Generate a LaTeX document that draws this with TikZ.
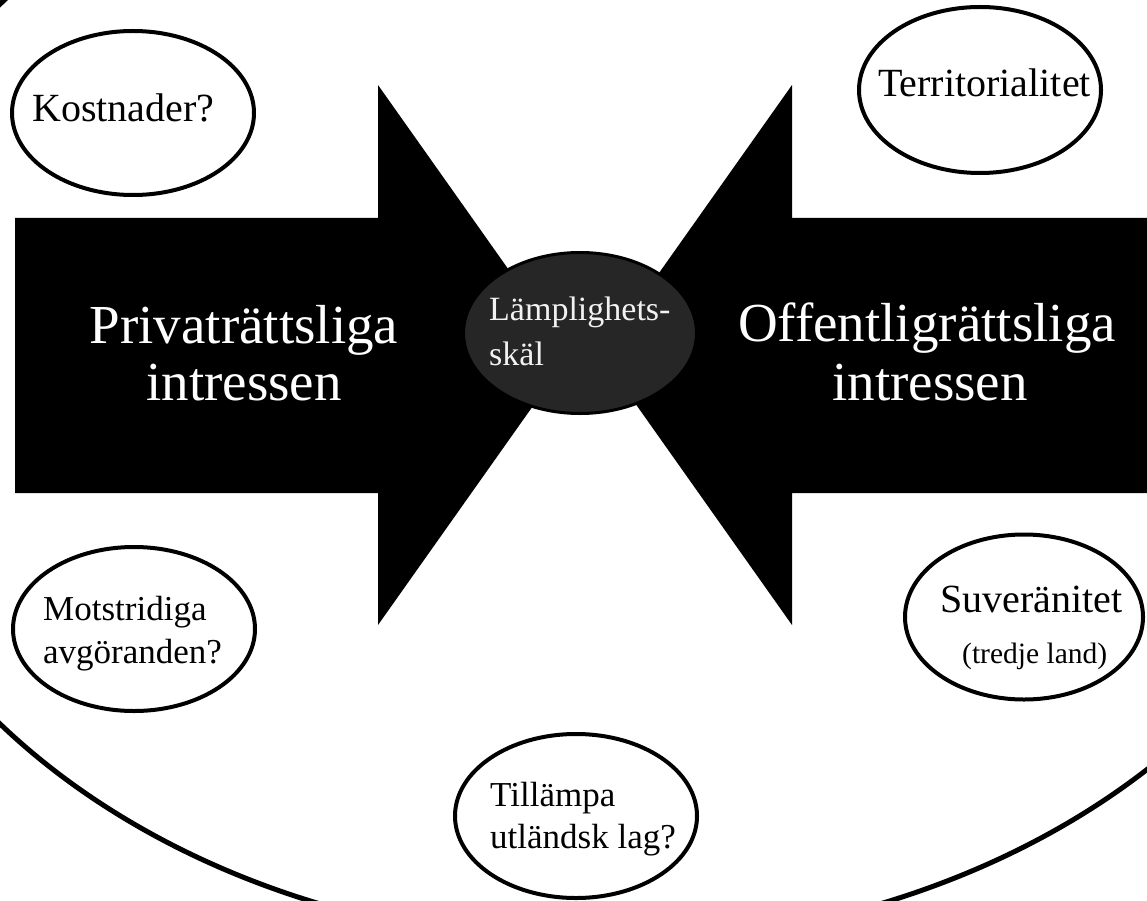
\documentclass[tikz,border=0pt]{standalone}
\usepackage{fontspec}
\setmainfont{Liberation Serif}
\usetikzlibrary{shapes.geometric}

\definecolor{hubgray}{HTML}{262626}
\definecolor{hubtext}{HTML}{F2F2F2}

% one font size, scaled up
\newcommand{\sized}[2]{\scalebox{#1}{#2}}

\begin{document}
\begin{tikzpicture}[x=1pt, y=-1pt, font=\fontsize{10}{12}\selectfont,
    bubble/.style = {ellipse, draw, line width=4pt, fill=white, inner sep=0pt,
                     minimum width=242pt, minimum height=164pt},
    word/.style = {anchor=base west, inner sep=0pt},
    big/.style = {anchor=base, inner sep=0pt, text=white}]

  \useasboundingbox (0,0) rectangle (1147,901);
  \fill[white] (0,0) rectangle (1147,901);

  % large frame arc
  \begin{scope}
    \clip (0,0) rectangle (1147,901);
    \draw[line width=5pt] (600,364) ellipse [x radius=765, y radius=580];
  \end{scope}

  % the two arrows
  \fill (15,218) -- (378,218) -- (378,85) -- (569,355) -- (378,625) -- (378,493) -- (15,493) -- cycle;
  \fill (1147,218) -- (792,218) -- (792,85) -- (601,355) -- (792,625) -- (792,493) -- (1147,493) -- cycle;

  \node[big] (priv) at (244,343) {\sized{5.5}{Privaträttsliga}};
  \node[big] (privb) at (244,400) {\sized{5.5}{intressen}};
  \node[big] (off) at (927,341) {\sized{5.5}{Offentligrättsliga}};
  \node[big] (offb) at (930,400) {\sized{5.5}{intressen}};

  % centre
  \node[ellipse, draw, line width=3pt, fill=hubgray, minimum width=233pt, minimum height=161pt] (hub) at (580,333) {};
  \node[word, text=hubtext] (huba) at (489,320) {\sized{3.4}{Lämplighets-}};
  \node[word, text=hubtext] (hubb) at (489,365) {\sized{3.4}{skäl}};

  % bubbles
  \node[bubble] (kostnad) at (133,113) {};
  \node[word] at (32,122) {\sized{4}{Kostnader?}};

  \node[bubble, minimum height=166pt] (territ) at (980,90) {};
  \node[word] at (878,97) {\sized{4}{Territorialitet}};

  \node[bubble] (motstr) at (134,629) {};
  \node[word] at (43,620) {\sized{3.5}{Motstridiga}};
  \node[word] at (43,663) {\sized{3.5}{avgöranden?}};

  \node[bubble] (tillamp) at (576,816) {};
  \node[word] at (490,806) {\sized{3.5}{Tillämpa}};
  \node[word] at (490,848) {\sized{3.5}{utländsk lag?}};

  \node[bubble, minimum width=238pt, minimum height=165pt] (suver) at (1024,617) {};
  \node[word] at (940,612) {\sized{4}{Suveränitet}};
  \node[word] at (962,663) {\sized{2.95}{(tredje land)}};
\end{tikzpicture}
\end{document}
